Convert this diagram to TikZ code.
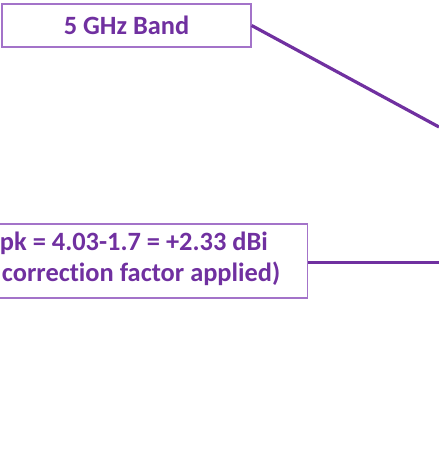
\documentclass[tikz,border=0pt]{standalone}
\usepackage{fontspec}
\setmainfont{Carlito}[Ligatures={NoCommon,TeX}]
\usetikzlibrary{positioning}
\definecolor{bandPurple}{HTML}{7030A0}
\definecolor{boxPurple}{HTML}{A373C9}

\begin{document}
\begin{tikzpicture}[x=1bp,y=1bp]
	% Styles
	\tikzstyle{labelbox}=[draw=boxPurple, line width=1.3bp, rectangle, fill=white, inner sep=0pt]
	\tikzstyle{leader}=[draw=bandPurple, line width=3.2bp]
	\tikzstyle{txt}=[text=bandPurple, font={\fontsize{26.4bp}{31.7bp}\selectfont\bfseries}, inner sep=0pt]

	\useasboundingbox (0,0) rectangle (439,475);
	\clip (0,0) rectangle (439,475);

	% Leaders
	\coordinate (bandEnd) at (439,348);
	\coordinate (gainEnd) at (439,212.5);

	% Boxes
	\node[labelbox, txt, minimum width=249bp, minimum height=43bp] (band) at (126.5,449.5) {5 GHz Band};
	\node[labelbox, minimum width=420bp, minimum height=74bp, anchor=east] (gain) at (308,214) {};
	\node[txt, anchor=base east] (gainTop) at (268,224) {pk = 4.03-1.7 = +2.33 dBi};
	\node[txt, anchor=base east] (gainBottom) at (280.5,193) {correction factor applied)};

	\draw[leader] (band.east) -- (bandEnd);
	\draw[leader] (gainEnd -| gain.east) -- (gainEnd);
\end{tikzpicture}
\end{document}
